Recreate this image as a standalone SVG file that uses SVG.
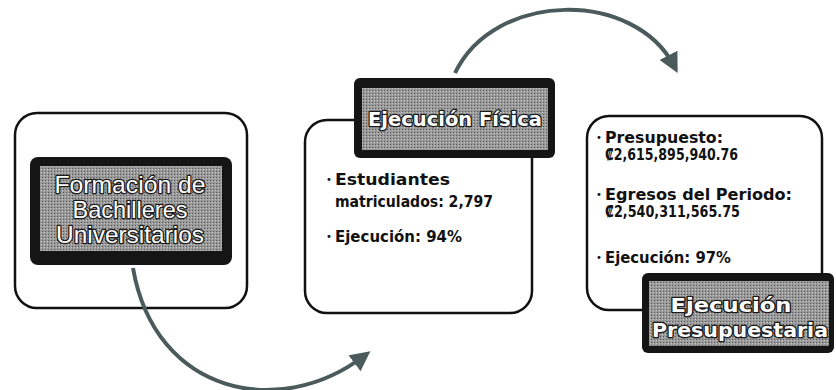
<svg xmlns="http://www.w3.org/2000/svg" width="836" height="390" viewBox="0 0 836 390">
<style>
.box{fill:#fff;stroke:#111;stroke-width:2.5}
.lab{fill:#151515}
.tex{fill:url(#ht)}
.lt{fill:#fff;stroke:#1a1a1a;stroke-width:2.5;paint-order:stroke;stroke-linejoin:round;text-anchor:middle}
.l1{font-family:"Liberation Sans",Arial,sans-serif;font-size:24px}
.l2{font-family:"DejaVu Sans",Verdana,sans-serif;font-size:19px;font-weight:bold}
.bt{font-family:"DejaVu Sans",Verdana,sans-serif;font-size:15px;font-weight:bold;fill:#111}
.bu{font-family:"DejaVu Sans",Verdana,sans-serif;font-size:10px;fill:#111;text-anchor:middle}
.conn{fill:none;stroke:#4b5a5b;stroke-width:4;marker-end:url(#ah)}
</style>
<defs>
<pattern id="ht" width="3" height="3" patternUnits="userSpaceOnUse">
<rect width="3" height="3" fill="#9a9a9a"/>
<rect width="1" height="1" fill="#555"/>
<rect x="2" y="1" width="1" height="1" fill="#c4c4c4"/>
</pattern>
<marker id="ah" markerWidth="5" markerHeight="5" refX="6" refY="5" viewBox="0 0 10 10" orient="auto" markerUnits="strokeWidth">
<path d="M0,0 L10,5 L0,10 z" fill="#4b5a5b"/>
</marker>
</defs>
<g id="node-formacion">
<rect class="box" x="15" y="113" width="232" height="195" rx="22"/>
<rect class="lab" x="30" y="157" width="202" height="108" rx="8"/>
<rect class="tex" x="40" y="166" width="182" height="85"/>
<text class="lt l1" x="130" y="193" textLength="151" lengthAdjust="spacingAndGlyphs">Formación de</text>
<text class="lt l1" x="130" y="218" textLength="115" lengthAdjust="spacingAndGlyphs">Bachilleres</text>
<text class="lt l1" x="130" y="243" textLength="148" lengthAdjust="spacingAndGlyphs">Universitarios</text>
</g>
<g id="node-fisica">
<rect class="box" x="305" y="120" width="227" height="193" rx="22"/>
<rect class="lab" x="354" y="78" width="201" height="80" rx="6"/>
<rect class="tex" x="362" y="88" width="186" height="62"/>
<text class="lt l2" x="455" y="126" textLength="174" lengthAdjust="spacingAndGlyphs">Ejecución Física</text>
<text class="bu" x="329" y="183">•</text>
<text class="bt" x="335" y="185" textLength="115" lengthAdjust="spacingAndGlyphs">Estudiantes</text>
<text class="bt" x="335" y="207" textLength="158" lengthAdjust="spacingAndGlyphs">matriculados: 2,797</text>
<text class="bu" x="329" y="240">•</text>
<text class="bt" x="335" y="242" textLength="127" lengthAdjust="spacingAndGlyphs">Ejecución: 94%</text>
</g>
<g id="node-presupuestaria">
<rect class="box" x="587" y="116" width="235" height="194" rx="22"/>
<text class="bu" x="599" y="141">•</text>
<text class="bt" x="605" y="143" textLength="118" lengthAdjust="spacingAndGlyphs">Presupuesto:</text>
<text class="bt" x="605" y="160" textLength="133" lengthAdjust="spacingAndGlyphs">₡2,615,895,940.76</text>
<text class="bu" x="599" y="198">•</text>
<text class="bt" x="605" y="200" textLength="187" lengthAdjust="spacingAndGlyphs">Egresos del Periodo:</text>
<text class="bt" x="605" y="217" textLength="135" lengthAdjust="spacingAndGlyphs">₡2,540,311,565.75</text>
<text class="bu" x="599" y="261">•</text>
<text class="bt" x="605" y="263" textLength="126" lengthAdjust="spacingAndGlyphs">Ejecución: 97%</text>
<rect class="lab" x="642" y="273" width="192" height="80" rx="6"/>
<rect class="tex" x="649" y="281" width="180" height="65"/>
<text class="lt l2" x="731" y="312" textLength="121" lengthAdjust="spacingAndGlyphs">Ejecución</text>
<text class="lt l2" x="740" y="337" textLength="176" lengthAdjust="spacingAndGlyphs">Presupuestaria</text>
</g>
<g id="connectors">
<path class="conn" d="M133,268 C155,395 280,420 364,356"/>
<path class="conn" d="M455,73 C495,-10 635,-10 674,66"/>
</g>
</svg>
